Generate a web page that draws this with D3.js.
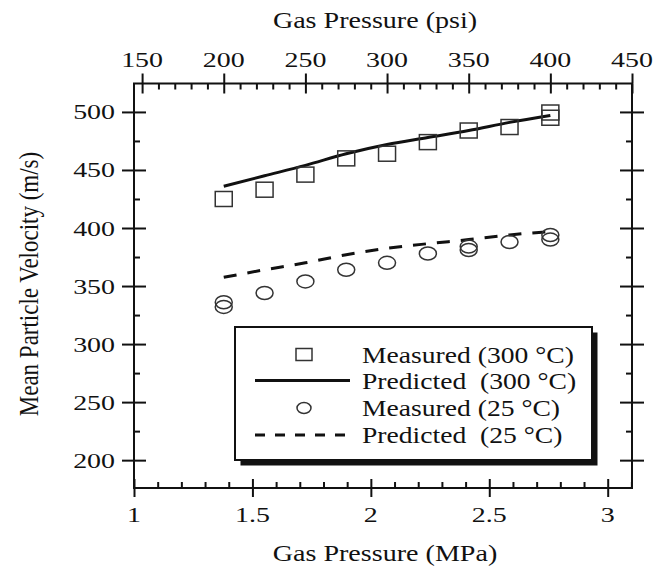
<!DOCTYPE html>
<html>
<head>
<meta charset="utf-8">
<script src="https://cdn.jsdelivr.net/npm/d3@7"></script>
<style>
  body { margin: 0; background: #fff; }
  text { font-family: "Liberation Serif", "Times New Roman", serif; fill: #111; }
</style>
</head>
<body>
<svg id="chart"></svg>
<script>
// pressures (psi) where the model was evaluated
const pressurePsi = [200, 225, 250, 275, 300, 325, 350, 375, 400];
const predicted300 = [436, 445, 454, 464, 472, 478, 484, 491, 497];
const predicted25 = [357.5, 364, 370, 377, 382.5, 386.5, 390, 394, 397];

// measured points (some pressures were measured twice)
const measured300Psi = [200, 225, 250, 275, 300, 325, 350, 375, 400, 400];
const measured300 = [425, 433, 446, 460, 464, 474, 484, 487, 499.5, 495];
const measured25Psi = [200, 200, 225, 250, 275, 300, 325, 350, 350, 375, 400, 400];
const measured25 = [336, 332, 344, 354, 364, 370, 378, 384, 381, 388, 394, 390];

const psiTicks = [150, 200, 250, 300, 350, 400, 450];
const mpaTicks = [1, 1.5, 2, 2.5, 3];
const velTicks = [200, 250, 300, 350, 400, 450, 500];
const velMinorTicks = [225, 275, 325, 375, 425, 475];

const legendLabels = ["Measured (300 °C)", "Predicted  (300 °C)", "Measured (25 °C)", "Predicted  (25 °C)"];

const PSI_PER_MPA = 145.04;
const W = 654, H = 573;
const pL = 134, pR = 632, pT = 83.5, pB = 488;

const svg = d3.select("#chart").attr("width", W).attr("height", H);

const xPsi = d3.scaleLinear().domain([PSI_PER_MPA, 450]).range([pL, pR]);
const xMpa = d3.scaleLinear().domain([1, 450 / PSI_PER_MPA]).range([pL, pR]);
const y = d3.scaleLinear().domain([176, 524.5]).range([pB, pT]);

// tick marks only (no labels)
function tickMarks(gen, tr, values, size) {
  const g = svg.append("g").attr("transform", tr)
    .call(gen.tickValues(values).tickSize(size).tickFormat(""));
  g.select(".domain").remove();
  g.selectAll("line").attr("stroke", "#111").attr("stroke-width", 2);
  g.selectAll("text").remove();
  return g;
}

// minor ticks straight from the scales
const mpaMinor = xMpa.ticks(20).filter(d => Math.abs(d * 2 - Math.round(d * 2)) > 1e-6);
const psiMinor = xPsi.ticks(30).filter(d => d % 50 !== 0);

// bottom
tickMarks(d3.axisBottom(xMpa), `translate(0,${pB})`, mpaTicks, 9);
tickMarks(d3.axisBottom(xMpa), `translate(0,${pB})`, mpaTicks, -9);
tickMarks(d3.axisBottom(xMpa), `translate(0,${pB})`, mpaMinor, -6);
// top
tickMarks(d3.axisTop(xPsi), `translate(0,${pT})`, psiTicks, 10);
tickMarks(d3.axisTop(xPsi), `translate(0,${pT})`, psiTicks, -10);
tickMarks(d3.axisTop(xPsi), `translate(0,${pT})`, psiMinor, -6);
// left
tickMarks(d3.axisLeft(y), `translate(${pL},0)`, velTicks, 12);
tickMarks(d3.axisLeft(y), `translate(${pL},0)`, velTicks, -12);
tickMarks(d3.axisLeft(y), `translate(${pL},0)`, velMinorTicks, -6);
// right
tickMarks(d3.axisRight(y), `translate(${pR},0)`, velTicks, 12);
tickMarks(d3.axisRight(y), `translate(${pR},0)`, velTicks, -12);
tickMarks(d3.axisRight(y), `translate(${pR},0)`, velMinorTicks, -6);

// frame
svg.append("rect")
  .attr("x", pL).attr("y", pT)
  .attr("width", pR - pL).attr("height", pB - pT)
  .attr("fill", "none").attr("stroke", "#111").attr("stroke-width", 2);

// tick labels (the scan is stretched sideways, so text gets a small x-scale)
const TSX = 1.27;
svg.append("g").selectAll("text").data(mpaTicks).join("text")
  .attr("transform", d => `translate(${xMpa(d)},${pB + 33.5}) scale(${TSX},1)`)
  .attr("text-anchor", "middle").attr("font-size", 22)
  .text(d => d);

svg.append("g").selectAll("text").data(psiTicks).join("text")
  .attr("transform", d => `translate(${xPsi(d)},${pT - 17}) scale(${TSX},1)`)
  .attr("text-anchor", "middle").attr("font-size", 22)
  .text(d => d);

svg.append("g").selectAll("text").data(velTicks).join("text")
  .attr("transform", d => `translate(${pL - 19},${y(d) + 7.5}) scale(${TSX},1)`)
  .attr("text-anchor", "end").attr("font-size", 22)
  .text(d => d);

// axis titles
svg.append("text")
  .attr("transform", "translate(375,28) scale(1.17,1)")
  .attr("text-anchor", "middle").attr("font-size", 24)
  .text("Gas Pressure (psi)");

svg.append("text")
  .attr("transform", "translate(385,561) scale(1.17,1)")
  .attr("text-anchor", "middle").attr("font-size", 24)
  .text("Gas Pressure (MPa)");

svg.append("text")
  .attr("transform", "translate(38,284) rotate(-90) scale(1,1.15)")
  .attr("text-anchor", "middle").attr("font-size", 23)
  .text("Mean Particle Velocity (m/s)");

// predicted curves
const line = d3.line()
  .x(d => xPsi(d[0]))
  .y(d => y(d[1]))
  .curve(d3.curveMonotoneX);

svg.append("path")
  .datum(d3.zip(pressurePsi, predicted300))
  .attr("d", line)
  .attr("fill", "none").attr("stroke", "#111").attr("stroke-width", 3);

svg.append("path")
  .datum(d3.zip(pressurePsi, predicted25))
  .attr("d", line)
  .attr("fill", "none").attr("stroke", "#111").attr("stroke-width", 3)
  .attr("stroke-dasharray", "13,11");

// measured points
svg.append("g").selectAll("rect").data(d3.zip(measured300Psi, measured300)).join("rect")
  .attr("x", d => xPsi(d[0]) - 8.5).attr("y", d => y(d[1]) - 7.5)
  .attr("width", 17).attr("height", 15)
  .attr("fill", "none").attr("stroke", "#333").attr("stroke-width", 1.5);

svg.append("g").selectAll("ellipse").data(d3.zip(measured25Psi, measured25)).join("ellipse")
  .attr("cx", d => xPsi(d[0])).attr("cy", d => y(d[1]))
  .attr("rx", 8.5).attr("ry", 6.5)
  .attr("fill", "none").attr("stroke", "#333").attr("stroke-width", 1.5);

// legend
const lg = svg.append("g").attr("transform", "translate(235,327)");
lg.append("rect").attr("x", 5.5).attr("y", 5.5).attr("width", 357).attr("height", 133).attr("fill", "#111");
lg.append("rect").attr("width", 357).attr("height", 133)
  .attr("fill", "#fff").attr("stroke", "#111").attr("stroke-width", 2);

const rowY = [27.5, 53.5, 81, 108];
lg.append("rect").attr("x", 69 - 8).attr("y", rowY[0] - 6).attr("width", 16).attr("height", 12)
  .attr("fill", "none").attr("stroke", "#333").attr("stroke-width", 1.5);
lg.append("line").attr("x1", 20).attr("x2", 115).attr("y1", rowY[1]).attr("y2", rowY[1])
  .attr("stroke", "#111").attr("stroke-width", 3);
lg.append("ellipse").attr("cx", 69).attr("cy", rowY[2]).attr("rx", 7).attr("ry", 5.5)
  .attr("fill", "none").attr("stroke", "#333").attr("stroke-width", 1.5);
lg.append("line").attr("x1", 20).attr("x2", 115).attr("y1", rowY[3]).attr("y2", rowY[3])
  .attr("stroke", "#111").attr("stroke-width", 3).attr("stroke-dasharray", "10,10");

lg.selectAll("text.lab").data(legendLabels).join("text")
  .attr("class", "lab")
  .attr("transform", (d, i) => `translate(127,${35.7 + i * 26.7}) scale(1.15,1)`)
  .attr("font-size", 24)
  .style("white-space", "pre")
  .text(d => d);
</script>
</body>
</html>
